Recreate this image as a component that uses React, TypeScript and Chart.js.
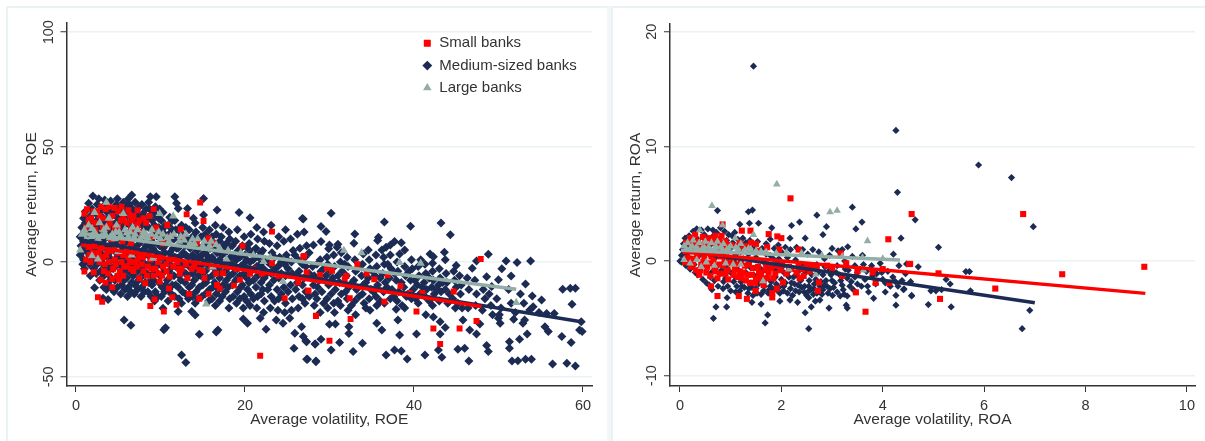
import React, { useEffect, useRef } from "react";
import { Chart, registerables } from "chart.js";

Chart.register(...registerables);

const NAVY = "#1c2b53";
const RED = "#ff0000";
const SAGE = "#93aea6";
const INK = "#333333";
const GRID = "#eaf2f3";
const FONT = "'Liberation Sans', Arial, sans-serif";

const smallLabel = "Small banks";
const mediumLabel = "Medium-sized banks";
const largeLabel = "Large banks";

const roeXTicks = [0, 20, 40, 60];
const roeYTicks = [-50, 0, 50, 100];
const roaXTicks = [0, 2, 4, 6, 8, 10];
const roaYTicks = [-10, 0, 10, 20];

const mediumRoe = [
  [2,28.7],[1.5,25.5],[6.6,29.1],[8.8,28.4],[9.5,28.4],[11.7,28.4],[15.1,27.6],[11.9,25.5],[12.1,23.3],[13.2,23.3],[16.7,22.6],[19.3,21.5],[20.6,19.2],[26.8,18.9],[15.1,20.4],[13.9,19],
  [0.5,3],[0.6,7],[0.5,11],[0.7,15],[0.9,19],[1.1,22],[0.8,-1],[1,-3],[1.3,1],[1.2,5],[1.4,9],[1.3,13],[1.4,17],[1.7,20],[1.9,23],
  [1.7,-6],[2.2,-11.2],[2.1,-3],[2,1],[2.2,5],[2.1,9],[2.3,13],[2.2,17],[2.4,21],[2.5,25],[2.7,27.5],[2.8,-8],[2.9,-4],[3,0],[2.9,4],[3.1,8],[3,12],[3.2,16],[3,20],[3.2,24],[3.4,27],
  [3.8,-16.3],[3.2,-15.8],[3.6,-12],[3.8,-9],[3.7,-5],[3.9,-1],[3.8,3],[4,7],[3.7,11],[3.9,15],[3.8,19],[4,23],[4.1,26.5],[4.5,-13],[4.6,-8],[4.4,-3],[4.6,1],[4.5,5],[4.7,9],[4.5,13],[4.7,17],[4.5,21],[4.8,25],[4.9,27.5],
  [5.3,-14],[5.4,-10],[5.2,-6],[5.4,-2],[5.3,2],[5.5,6],[5.3,10],[5.5,14],[5.2,18],[5.4,22],[5.6,26],[5.7,-25.3],[6.5,-27.6],[6.1,-15],[6.2,-11],[6,-7],[6.2,-3],[6.1,1],[6.3,5],[6,9],[6.3,13],[6.1,17],[6.2,21],[6.3,25],[6.2,27.5],
  [6.9,-14],[7,-10],[6.8,-6],[7,-2],[6.9,2],[7.1,6],[6.8,10],[7,14],[6.9,18],[7.1,22],[7,26],[7.7,-15],[7.8,-11],[7.6,-7],[7.8,-3],[7.7,1],[7.9,5],[7.6,9],[7.8,13],[7.7,17],[7.9,21],[7.8,25],
  [8.5,-13],[8.6,-9],[8.4,-5],[8.6,-1],[8.5,3],[8.7,7],[8.4,11],[8.6,15],[8.5,19],[8.7,23],[8.6,26],[9.3,-17],[9.4,-13],[9.2,-8],[9.4,-4],[9.3,0],[9.5,4],[9.2,8],[9.4,12],[9.3,16],[9.5,20],[9.4,24],
  [10.3,-20.2],[10.6,-28.6],[10.4,-29.5],[10.1,-15],[10.2,-11],[10,-6],[10.2,-2],[10.1,2],[10.3,6],[10,10],[10.2,14],[10.1,18],[10.3,21.5],[10.9,-17],[11,-12],[10.8,-8],[11,-4],[10.9,0],[11.1,4],[10.8,8],[11,12],[10.9,16],[11.1,19.5],
  [12.1,-21.6],[11.7,-15],[11.8,-10],[11.6,-6],[11.8,-2],[11.7,2],[11.9,6],[11.6,10],[11.8,14],[11.7,18],[12.5,-40.5],[13,-43.8],[12.5,-18],[12.6,-13],[12.4,-8],[12.6,-4],[12.5,0],[12.7,4],[12.4,8],[12.6,12],[12.5,16],
  [13.7,-21.6],[14.1,-23.1],[13.3,-16],[13.4,-11],[13.2,-6],[13.4,-2],[13.3,2],[13.5,6],[13.2,10],[13.4,14],[14.6,-31.5],[14.1,-18],[14.2,-13],[14,-8],[14.2,-3],[14.1,1],[14.3,5],[14,9],[14.2,13],[14.1,17],
  [16.8,-29.6],[16.6,-30.5],[14.9,-15],[15,-10],[14.8,-6],[15,-1],[14.9,3],[15.1,7],[14.8,11],[15,15],[15.7,-17],[15.8,-12],[15.6,-7],[15.8,-2],[15.7,2],[15.9,6],[15.6,10],[15.8,14],[16.5,-19],[16.6,-14],[16.4,-9],[16.6,-4],[16.5,0],[16.7,4],[16.4,8],[16.6,12],[16.5,16],
  [17.3,-15],[17.4,-10],[17.2,-5],[17.4,-1],[17.3,3],[17.5,7],[17.2,11],[17.4,15],[18.1,-20],[18.2,-16],[18,-11],[18.2,-6],[18.1,-2],[18.3,2],[18,6],[18.2,10],[18.1,13],[19,-18],[19.1,-13],[18.9,-8],[19.1,-3],[19,1],[19.2,5],[18.9,9],[19.1,14],
  [19.8,-24.8],[20.3,-26.7],[19.8,-20],[19.9,-15],[19.7,-10],[19.9,-5],[19.8,-1],[20,3],[19.7,7],[19.9,11],[20.6,-19],[20.7,-14],[20.5,-9],[20.7,-4],[20.6,0],[20.8,4],[20.5,8],[20.7,12],[21.8,-24.5],[21.4,-20],[21.5,-15],[21.3,-11],[21.5,-6],[21.4,-2],[21.6,2],[21.3,6],[21.5,10],[21.4,15],
  [22.5,-29.3],[22.2,-22],[22.3,-17],[22.1,-12],[22.3,-7],[22.2,-3],[22.4,1],[22.1,5],[22.3,9],[22.2,13],[23.7,-25.3],[23,-20],[23.1,-15],[22.9,-10],[23.1,-5],[23,-1],[23.2,4],[22.9,8],[23.1,16],
  [24.5,-26.7],[23.9,-21],[24,-16],[23.8,-12],[24,-7],[23.9,-2],[24.1,2],[23.8,7],[24,11],[25.3,-24.5],[24.7,-22],[24.8,-18],[24.6,-11],[24.8,-6],[24.7,-1],[24.9,3],[24.6,9],[24.8,14],
  [26.7,-28.2],[25.9,-31],[26.9,-32.5],[27.3,-34.7],[25.8,-37.6],[27.4,-42.4],[28.4,-43.4],[28.3,-35.7],[25.5,-21],[25.6,-16],[25.4,-10],[25.6,-5],[25.5,0],[25.7,5],[25.4,10],[26.3,-20],[26.4,-15],[26.2,-9],[26.4,-4],[26.3,1],[26.5,6],[26.2,12],[27.1,-18],[27.2,-13],[27,-7],[27.2,-2],[27.1,2],[27.3,7],[27,13],[26.9,18.7],
  [30.2,21.2],[29,15.4],[29.6,13.2],[33,12.2],[36.5,17.4],[39.6,15.5],[43.2,17],[44.3,11.8],[35.8,10.7],[35.7,9.3],[31,7.7],[29,8.9],[28.1,7.4],[30,7.4],[29.9,5.7],[30.9,6.4],[32.9,8.1],[34.6,5.2],[34,3.5],[37.7,8.9],[38.5,8.4],[37.2,7.4],[36.7,6.4],[36.2,5.2],[38.9,5.2],[38.3,3.5],[43.6,4.2],[43.7,0.9],[41.9,3.5],[42.3,2.3],[42.2,-0.6],[40.8,0.9],[48.8,3.3],[50.9,0.4],[52.2,-0.2],[53.8,0.4],[47.4,0.4],[46.9,-2.8],[45,-1.6],[50.4,-3],[51.5,-6.1],[53.2,-9.6],[48.6,-6.4],[50,-7.8],[49.2,-10.7],
  [54,-14.8],[55.1,-16.6],[57.6,-11.9],[58.5,-11.5],[59.1,-11.5],[58.7,-18.4],[54.1,-19.5],[53.7,-20.9],[54.8,-22],[55.7,-22.4],[56.6,-22.4],[59.8,-26],[59.6,-29.6],[59.9,-30.3],[57.5,-32.5],[58.6,-35.1],[56.4,-44.4],[58.1,-44.1],[59.1,-45.3],[51.6,-43.1],[52.3,-43],[53.2,-42.4],[53.9,-42.4],[46.5,-43.1],[43.3,-41.5],[41.3,-40.5],[39.2,-42.2],[36.7,-40.5],[37.7,-38.3],[38.5,-38.8],[28.4,-43.1],[27.3,-42.4],[30.2,-38.3],[32.8,-39],[33.9,-35.4],[31.2,-35.1],[28.3,-35.7],[29,-33.7],[27.2,-34.4],[45.2,-38],[46,-37.6],[42.9,-38.3],[48.8,-39],[48.6,-36.4],[51.3,-34.7],[51.3,-37.6],[52.5,-33.7],[53.4,-31.4],[50.2,-26.7],[50,-24.5],[52.9,-26.7],[53.1,-25.3],[55.9,-30.3],[55.5,-28.2],[47.4,-31.4],[46.6,-29.6],[43.7,-28.5],[43.1,-26],[45.8,-25.3],[43.1,-31.4],[40.3,-31.4],[38.3,-31.8],[36.2,-29.6],[38.1,-25.3],[37.9,-20.6],[35.6,-26.7],[32.3,-31.1],[32.3,-28.2],[30,-27.1],[30.7,-27],
  [28,-2],[28.2,-6],[28.1,-10],[28.3,-14],[28.2,-19],[28.9,1],[29,-4],[28.8,-8],[29.1,-13],[28.9,-22],[29.7,2],[29.8,-1],[29.6,-6],[29.9,-10],[29.7,-16],[29.8,-20],[30.5,3],[30.6,-2],[30.4,-7],[30.7,-12],[30.5,-18],[30.6,-22],[31.4,4],[31.3,0],[31.5,-4],[31.2,-9],[31.4,-14],[31.3,-19],[32.1,2],[32.2,-2],[32,-6],[32.3,-11],[32.1,-16],[32.2,-21],[33,1],[33.1,-4],[32.9,-8],[33.2,-12],[33,-17],[33.1,-23],[33.9,-1],[33.8,-6],[34,-10],[33.9,-14],[34.1,-18],[34.7,1],[34.8,-3],[34.6,-7],[34.9,-12],[34.7,-16],[34.8,-21],[35.5,3],[35.6,-2],[35.4,-6],[35.7,-10],[35.5,-15],[35.6,-19],[36.4,2],[36.5,-1],[36.3,-5],[36.6,-9],[36.4,-13],[36.5,-18],[37.2,3],[37.3,-3],[37.1,-7],[37.4,-12],[37.2,-16],[38,0],[38.1,-4],[37.9,-8],[38.2,-13],[38,-17],[38.9,-2],[39,-6],[38.8,-11],[39.1,-15],[38.9,-20],[39.7,1],[39.8,-3],[39.6,-8],[39.9,-12],[39.7,-16],[40.5,-2],[40.6,-6],[40.4,-10],[40.7,-14],[40.5,-18],[41.3,-1],[41.4,-5],[41.2,-9],[41.5,-12],[41.3,-15],[41.4,-23],[42.2,-4],[42.3,-8],[42.1,-11],[42.4,-14],[42.2,-19],[42.3,-24],[43,-3],[43.1,-7],[42.9,-10],[43.2,-13],[43,-17],[43.8,-5],[43.9,-9],[43.7,-12],[44,-18],[44.7,-4],[44.8,-8],[44.6,-16],[44.9,-20],[45.4,-6],[45.6,-10],[45.5,-14],[45.7,-20],[46.3,-7],[46.5,-12],[46.4,-20],[47.2,-8],[47.4,-14],[47.3,-19],[48.2,-12],[48.4,-16],[48.1,-21],[47.8,-27],[48.9,-14],[49.1,-19],[49.3,-23],[49.8,-16],[50.3,-20],[50.1,-23],[51.2,-12],[51.5,-18],[52,-22],[52.6,-14],[53,-18],[51.8,-25],
  [0.9,1],[0.9,5],[0.9,9],[1,13],[1.1,17],[1.6,-1],[1.6,3],[1.7,7],[1.7,11],[1.8,15],[1.9,18],[2.4,-5],[2.5,-1],[2.4,3],[2.6,7],[2.5,11],[2.6,15],[2.7,19],[2.8,22],[3.3,-11],[3.3,-6],[3.4,-2],[3.3,2],[3.5,6],[3.4,10],[3.5,14],[3.4,18],[3.6,22],[4.1,-11],[4.2,-7],[4.1,-3],[4.2,1],[4.1,5],[4.3,9],[4.1,13],[4.2,17],[4.3,21],[4.9,-11],[5,-6],[4.9,-1],[5,3],[4.9,7],[5.1,11],[4.9,15],[5,19],[5.1,23],[5.8,-12],[5.7,-8],[5.8,-4],[5.7,0],[5.8,4],[5.7,8],[5.9,12],[5.7,16],[5.8,20],[5.9,24],[6.5,-13],[6.6,-9],[6.5,-5],[6.6,-1],[6.5,3],[6.7,7],[6.5,11],[6.6,15],[6.6,19],[6.7,23],[7.3,-12],[7.4,-8],[7.3,-4],[7.4,0],[7.3,4],[7.5,8],[7.3,12],[7.4,16],[7.4,20],[7.5,24],[8.1,-13],[8.2,-9],[8.1,-5],[8.2,-1],[8.1,3],[8.3,7],[8.1,11],[8.2,15],[8.2,19],[8.3,23],[8.9,-15],[9,-10],[8.9,-6],[9,-2],[8.9,2],[9.1,6],[8.9,10],[9,14],[9,18],[9.1,22],[9.7,-15],[9.8,-9],[9.7,-5],[9.8,-1],[9.7,3],[9.9,7],[9.7,11],[9.8,15],[9.8,19],[9.9,23],[10.5,-13],[10.6,-10],[10.5,-4],[10.6,0],[10.5,4],[10.7,8],[10.5,12],[10.6,16],[11.3,-14],[11.4,-10],[11.3,-6],[11.4,-2],[11.3,2],[11.5,6],[11.3,10],[11.4,14],[11.4,18],[12.2,-16],[12.1,-11],[12.2,-6],[12.1,-2],[12.2,2],[12.1,6],[12.2,10],[12.1,14],[13,-14],[12.9,-9],[13,-5],[12.9,-1],[13,3],[12.9,7],[13,11],[13,15],
  [13.8,-15],[13.7,-10],[13.8,-5],[13.7,-1],[13.8,3],[13.7,7],[13.8,11],[14.5,-16],[14.6,-11],[14.5,-6],[14.6,-2],[14.5,2],[14.6,6],[14.5,10],[15.3,-14],[15.4,-9],[15.3,-4],[15.4,0],[15.3,4],[15.4,8],[15.3,12],[16.1,-16],[16.2,-11],[16.1,-6],[16.2,-2],[16.1,2],[16.2,6],[16.1,11],[17,-17],[16.9,-12],[17,-7],[16.9,-3],[17,1],[16.9,5],[17,9],[17.7,-13],[17.8,-8],[17.7,-4],[17.8,0],[17.7,4],[17.8,8],[18.6,-15],[18.5,-10],[18.6,-5],[18.5,-1],[18.6,3],[18.5,7],[19.4,-16],[19.5,-11],[19.4,-6],[19.5,-2],[19.4,2],[19.5,6],[20.2,-17],[20.3,-12],[20.2,-7],[20.3,-3],[20.2,1],[20.3,6],[21,-16],[21,-8],[21.1,-3],[21,1],[21.1,5],[21.9,-14],[21.9,-9],[21.8,-1],[21.9,4],[22.7,-12],[22.6,-5],[22.7,0],[23.5,-17],[23.4,-8],[23.5,-3],[23.5,2],[24.3,-14],[24.3,-5],[24.3,0],[25.1,-13],[25.1,-3],[25,1],[26,-12],[26,-6],[25.9,3],[26.8,-16],[26.8,-10],[26.8,-1],[27.6,-15],[27.6,-5],[27.6,4],[28.5,-16],[28.6,-11],[28.5,-1],[29.3,-18],[29.3,-3],[30.2,-14],[30.1,-4],[31,-17],[31,-6],[31.9,-13],[31.8,-1],[32.6,-19],[32.7,-9],[33.5,-15],[33.5,-2],[34.3,-20],[34.3,-9],[35.2,-13],[35.1,-4],[36,-17],[36,-7],[36.8,-11],[36.9,-1],[37.6,-15],[37.7,-5],[38.5,-9],[38.6,-19],[39.3,-14],[39.4,-4],[40.2,-16],[40.1,-8],[41,-11],[41.8,-7],[41.8,-17],[42.7,-12],[43.4,-9],[44.2,-14],[45,-11],[45.2,-18]
];
const smallRoe = [
  [1,-4.2],[2.1,-4.5],[2.6,-15.4],[3.1,-17.3],[2.9,-7.8],[3.5,-9],[4.3,-11],[5.1,-7.8],[4.3,-7.4],[7.5,-7.1],[8.2,-9.3],[8.8,-19.2],[9.3,-16.3],[10.4,-21.6],[11.4,-15.4],[11.9,-18.7],[11,-11.5],[9.9,-8.6],[11.1,-6.4],[12.3,-5.2],[13.4,-13.9],[14.6,-16],[15.7,-13.9],[16.7,-10],[17,-11.5],[18.7,-10.3],[19.4,-7.8],[17.4,-4.9],[14.6,-3.5],[21.8,-40.8],[24.7,-15.8],[27.5,-12.5],[28.4,-23.5],[26.3,-8.9],[20.6,-5.2],[23.2,-0.6],[26.9,2.3],[23.2,13.2],[19.7,7],[14.3,8.4],[16.2,8.4],[15.7,10.3],[12.7,10.7],[12.4,14.2],[10.8,16.1],[15.1,17.8],[13.1,20.7],[14.7,25.9],[9.2,23],
  [27,2.6],[33.3,-1],[29.7,-2.8],[30.3,-3.8],[28.9,-5.7],[27.3,-4.6],[32,-6.1],[31.8,-7.6],[34.4,-5],[35.3,-7.6],[36.9,-5.7],[38.4,-10.5],[27.5,-12.5],[32.4,-15.8],[36.5,-17.3],[28.4,-23.4],[32.5,-24.8],[30,-34.3],[40.3,-21.6],[42.3,-29],[45.4,-29],[47.4,-25.7],[43.1,-35.7],[44.7,-12.9],[47.9,1.3],[39.5,-13.6],[41,-13.5],
  [1.5,6.5],[2,4],[1.2,1],[2.5,2],[3,6],[3.6,3],[3.4,-1],[4.2,5],[4.6,1],[4.4,-3],[5,4],[5.4,0],[5.2,-4],[6,6],[6.2,2],[6,-2],[6.6,4],[7,0],[6.8,-4],[7.5,3],[7.8,-1],[8.2,4],[8.5,-2],[8.4,-6],[9,3],[9.4,-3],[9.2,-6],[10,2],[10.3,-2],[10.2,-6],[11,1],[11.5,-2],[12,0],[12.5,-3],[13,-1],[13.2,-7],[14,-2],[14.4,0],[15,-4],[15.2,-7],[16,-2],[16.6,-5],[18,-2],[19,-3],[21,-3],[22,-5],[24,-6],[25.5,-6],
  [1,21],[1.8,19],[2.5,22],[3.5,23],[3.2,19],[4.3,20],[5,22],[5.6,19],[6.2,22.5],[6.8,20],[7.5,18],[7.3,22.5],[8.3,17],[8.7,20],[9.5,15],[1.2,15],[2.3,14],[3.8,15],[5,15],[6.5,14],[7.8,13],[9,11],[10.3,8],[11,11],[4.2,10],[5.5,9],[6.5,8],
  [1.6,3],[1.7,0],[2.2,7],[2.7,4],[2.8,0],[3.2,2],[3.3,-4],[3.8,5],[3.9,0],[3.8,-5],[4.8,6],[4.7,-1],[4.9,-6],[5.6,3],[5.7,-2],[5.6,-6],[6.4,0],[6.5,-3],[7.2,5],[7.3,1],[7.2,-2],[7.9,2],[8,-4],[8.8,1],[8.9,-3],[9.7,0],[9.8,-5],[10.7,-1],[10.7,-4],[11.6,1],[12.2,-3],[13.7,-3],[2.2,17],[3.2,15],[4,17],[4.6,15],[5.3,18],[6,17],[6.7,18],[7.3,16],[8,19],[1.5,18],[2.8,20],[1.3,23],[2.1,22],[3,24],[3.9,24],[4.6,23.5],[5.4,24],[6.4,20]
];
const largeRoe = [
  [31.7,5],[33.8,4],[38.3,-0.3],[40.8,-0.6],[52.1,-17.7],[15.4,-18.4],[24.5,-8.6],[22.2,0.1],[17.8,1.2],[1.9,2.6],[0.5,5.2],[2.6,1.2],[5,4.5],[6.6,3],[9.1,1.6],[16.2,-2.3],[3.6,25.9],[5.6,21],[9.9,21],[11.5,20],[2.2,21.5],
  [0.7,12],[1.5,16],[1.2,10],[2.2,13],[2.8,17],[3,11],[3.6,15],[3.9,19],[4.3,12],[4.8,16],[5.2,11],[5.8,14],[6.2,11],[6.7,15],[7,12],[7.6,10],[8,13],[8.5,10.5],[9,14],[9.5,11],[10.3,12],[11,9],[11.6,12],[12.2,9],[13,12],[13.5,8],[14.4,10],[15,7],[16,9],[17,6],
  [1.8,11],[2.6,10],[3.4,12.5],[4,10.5],[4.7,13],[5.4,10.5],[6.4,13],[7.3,14],[8.3,12],[9.8,13],[10.8,10.5],[12.8,9.5],[14,8],[15.8,7],[18,5],[19.5,4],[21,3],[23,2],
  [1,14],[1.9,14.5],[2.4,11.5],[3.3,14],[4.6,10],[5.1,13],[6,12.5],[6.9,10.5],[7.9,11],[8.9,12],[10,10],[11.2,11],[12.4,11],[13.8,10],[15.2,9],[16.6,7.5]
];
const lineMediumRoe = [[0.6,9.6],[59.8,-26]];
const lineSmallRoe = [[0.6,7.4],[48,-19.4]];
const lineLargeRoe = [[0.6,12.5],[52.1,-11.9]];

const mediumRoa = [
  [1.45,17],[4.26,11.4],[4.29,6],[0.74,4.4],[1.43,4.45],[1.35,4.3],[3.4,4.7],[3.59,3.4],[3.47,2.8],[2.89,3],[2.82,2.3],[2.7,4],[2.36,3.4],[2.2,3.1],[1.18,3.2],[1.37,3.3],[1.55,3.3],[1.81,2.9],[2.17,2],[2.47,2],[4.36,2],[4.21,0.6],[3,1.1],[3.31,1.25],[3.2,1],
  [0.66,-5],[0.71,-4],[0.92,-4],[0.93,-3.2],[1.42,-3.6],[1.6,-3.75],[1.73,-4.7],[1.68,-5.4],[2.54,-5.9],[2.47,-4.5],[2.59,-4],[2.94,-4.1],[3.28,-3.85],[3.3,-4.1],[4.26,-3.85],[3.82,-3.25],[1.97,-3.5],[2.17,-3.4],[2.32,-3.6],[2.54,-3.2],[2.76,-3.4],[2.67,-3.5],[3.01,-3],[3.16,-3.05],[3.3,-3.05],[0.63,-2.5],[3.72,-2.7],[4.05,-2.7],[4.26,-3],[4.41,-2.5],[4.57,-3.05],
  [5.89,8.38],[6.54,7.28],[6.97,3],[4.64,3.6],[5.1,1.2],[4.7,-0.5],[4.47,-0.25],[5.64,-0.92],[5.71,-0.92],[5.25,-1.6],[5.33,-2],[5.73,-2.6],[5.16,-2.5],[5.05,-2.6],[4.95,-2.6],[4.42,-2.43],[4.57,-3],[4.9,-3.8],[5.35,-4],[6.9,-4.3],[6.75,-5.9],
  [0,0],[0.03,0.5],[0.05,1],[0.03,-0.1],[0.07,1.5],[0.1,2],[0.12,-0.4],[0.15,0.7],[0.16,1.4],[0.18,2.2],[0.2,-0.7],[0.22,0.2],[0.26,2.6],[0.3,-1],[0.33,2.8],[0.35,-1.2],[0.38,0.5],[0.42,2.7],[0.45,-1.6],[0.48,2.3],[0.52,-1.9],[0.55,2.8],[0.58,-2.1],[0.62,1.5],[0.65,2.7],[0.68,-1.7],[0.72,2.5],[0.75,-2.2],[0.78,-1.1],[0.8,2.9],[0.85,-2.4],[0.88,2.6],[0.9,-1.5],[0.94,-2.2],[0.96,2.3],[1,-2.6],[1.03,2.2],[1.06,-1.8],[1.08,2.5],[1.12,-2.2],[1.14,1.9],[1.18,-2.6],[1.2,-1.2],[1.24,2],[1.27,-2.3],[1.3,1.6],[1.34,-2.8],[1.38,1.8],[1.4,-1.9],[1.44,-3],[1.47,1.3],[1.5,-2.4],[1.53,1.7],[1.57,-1.5],[1.6,-2.9],[1.62,1.1],[1.66,-2.2],[1.7,1.5],[1.74,-2.8],[1.78,1.9],[1.8,-1.8],[1.84,-2.5],[1.86,1.1],[1.9,-2],[1.94,1.4],[1.97,-2.8],[2,0.8],[2.05,-2.2],[2.08,1.2],[2.12,-2.8],[2.15,-1.4],[2.18,1],[2.22,-3],[2.26,-2],[2.3,1.2],[2.35,-2.7],[2.38,-1.7],[2.42,1],[2.46,-2.2],[2.5,-3],[2.52,0.6],[2.55,-1.7],[2.58,-2.5],[2.62,1],[2.65,-2],[2.7,-2.8],[2.74,0.8],[2.78,-1.8],[2.82,-2.5],[2.86,-0.5],[2.9,-2.2],[2.95,0.5],[3,-1.7],[3.03,-2.3],[3.08,-1],[3.12,0.9],[3.17,-1.7],[3.22,-2.5],[3.26,-0.7],[3.3,-1.5],[3.35,-2.2],[3.4,0.4],[3.45,-1.4],[3.5,-2],[3.55,-0.7],[3.6,0.5],[3.65,-1.6],[3.7,-2.2],[3.78,-0.4],[3.8,-1.3],[3.86,-2],[3.95,-0.2],[4,-1.6],[4.1,-0.9],[4.15,-2.2],[4.2,-1.4],[4.3,-2.2],[4.32,-0.4],[4.38,-1.7],[4.45,-1.1],[4.55,-1.8],
  [0.2,1],[0.3,0.2],[0.35,1.9],[0.45,0.8],[0.5,-0.5],[0.55,1.2],[0.62,-1],[0.7,0.3],[0.78,1.7],[0.85,0.5],[0.92,-0.6],[1,1.1],[1.06,0],[1.15,-0.8],[1.2,0.8],[1.3,-0.4],[1.35,0.6],[1.45,-1.2],[1.5,0.3],[1.55,-0.5],[1.65,-0.1],[1.72,-1.4],[1.78,0.5],[1.88,-0.8],[1.95,0.2],[2.05,-1],[2.12,0.3],[2.2,-0.6],[2.3,-1.2],[2.4,-0.3],[2.48,-1],[2.6,-0.5],[2.72,-1],[2.85,0.2],[2.95,-0.8],[3.1,-0.4],[3.25,0],[3.45,-0.4],[3.62,-0.3],
  [0.1,1.1],[0.12,0.5],[0.25,1.4],[0.28,-0.3],[0.4,1.3],[0.4,-0.6],[0.5,2],[0.6,0.5],[0.6,-1.4],[0.66,2.2],[0.7,1],[0.72,-0.5],[0.82,0.9],[0.82,-0.8],[0.86,-1.8],[0.92,1.8],[0.95,0.3],[1,-1],[1.04,1.6],[1.1,0.6],[1.1,-1.4],[1.16,1.2],[1.2,-1.8],[1.25,0.2],[1.3,-1],[1.33,1.1],[1.4,-0.6],[1.42,-2.3],[1.45,0.8],[1.5,-1.4],[1.55,-2],[1.58,0.9],[1.62,-0.8],[1.68,-1.6],[1.7,0.6],[1.74,-0.5],[1.78,-2.2],[1.84,0.2],[1.88,-1.4],[1.92,-0.2],[1.95,-2.3],[2,-1.6],[2.02,-0.5],[2.08,-1.9],[2.14,-0.9],[2.18,-2.4],[2.24,-1.4],[2.28,0.1],[2.33,-2.1],[2.36,-0.8],[2.42,-1.4],[2.45,-2.7],[2.5,-0.7],[2.54,-2.2],[2.6,-1.2],[2.63,-2.9],[2.68,-1.6],[2.7,-0.3],[2.76,-2.2],[2.82,-1.2],[2.88,-1.7],[2.92,-2.8],[2.98,-1.2],[3.05,-1.9],[3.15,-1.2],[3.2,-2.1],[3.32,-0.8],[3.38,-1.8],[3.5,-1],[3.58,-2.2],[3.68,-0.9],[3.88,-1.1],[3.98,-1],[4.05,-1.9],[4.25,-1.8],
  [1.1,-2.7],[1.22,-2.2],[1.36,-2.4],[1.52,-2.8],[1.65,-2.6],[1.76,-2.5],[1.9,-2.5],[2.04,-2.6],[2.2,-1.9],[2.28,-2.6],[2.4,-2.3],[2.52,-2.7],[2.64,-2.4],[2.8,-2.9],[2.85,-2.1],[2.96,-2.4],[3.1,-2.7],[3.24,-2.9],[3.42,-2.5]
];
const smallRoa = [
  [4.57,4.1],[6.77,4.1],[9.16,-0.5],[7.54,-1.15],[6.22,-2.4],[5.13,-3.3],[5.1,-1.07],[4.54,-0.25],[2.18,5.47],[0.84,3.2],[1.22,2.65],[1.39,2.65],[1.75,2.35],[1.92,2.15],[2,2],[4.11,1.9],[1.96,1],[2.34,1],[3.17,0.67],[3.28,-0.2],[4.52,-0.26],[0.61,-2.2],[0.74,-3.05],[1.16,-3.05],[1.32,-3.3],[1.49,-2.6],[1.82,-2.8],[1.82,-3.17],[1.91,-2.4],[2.03,-1.86],[2.72,-2.6],[2.74,-1.86],[3.47,-2.73],[3.66,-4.42],[3.86,-1.9],[4.13,-1.9],
  [0.12,1.6],[0.2,2],[0.25,1.2],[0.3,2.3],[0.36,1.7],[0.45,2.1],[0.5,1.3],[0.58,2],[0.63,1.6],[0.7,2.2],[0.76,1.5],[0.82,2.2],[0.9,1.7],[0.92,1.2],[1.1,1.3],[1.25,1.3],[1.4,1.6],[1.5,1.5],[1.72,1.2],[1.55,0.9],
  [0.1,-0.1],[0.15,0.3],[0.22,-0.5],[0.28,0.2],[0.32,-0.8],[0.38,-1.2],[0.42,-0.3],[0.48,0.3],[0.54,-0.5],[0.6,-1.3],[0.66,0],[0.7,-0.9],[0.74,-1.5],[0.8,0.4],[0.85,-0.4],[0.9,-1.1],[0.95,-1.6],[1.02,0.2],[1.08,-0.7],[1.14,-1.4],[1.2,0],[1.25,-1],[1.3,-1.7],[1.36,-0.3],[1.42,-1.2],[1.48,-1.9],[1.54,-0.5],[1.6,-1.3],[1.65,-2.1],[1.7,-0.3],[1.75,-1],[1.84,-1.5],[1.9,-0.4],[2.02,-0.3],[2.15,-0.5],[2.3,-1],[2.36,-1.5],[2.42,-0.7],[2.5,-0.4],[2.7,-0.6],[2.9,-0.4],[3,-0.7],[3.2,-1.3],[3.5,-0.9],[3.8,-1],[4,-0.7],
  [0.18,0.1],[0.26,-0.2],[0.34,0.4],[0.4,-0.8],[0.46,-0.1],[0.52,-1],[0.58,-0.2],[0.62,0.4],[0.68,-0.6],[0.78,-0.3],[0.8,-1.1],[0.88,0.1],[0.94,-0.8],[1,-0.2],[1.06,-1.2],[1.12,-0.3],[1.18,-0.9],[1.22,-1.5],[1.28,-0.4],[1.34,-1.2],[1.38,-1.9],[1.44,-0.6],[1.5,-1.5],[1.56,-1],[1.62,-1.8],[1.68,-0.8],[1.72,-1.5],[1.8,-0.6],[1.88,-1.1],[1.98,-0.8],[2.1,-1.1],[2.2,-0.7],[2.34,-0.5],[2.44,-1.3],[2.56,-0.9],[2.6,-0.4],[0.5,1.8],[0.4,1.4],[0.66,2],[0.78,1.9],[0.86,1.5],[0.22,1.6],[0.3,1.6],[1,1.4],[1.18,1.6],[1.32,1.3]
];
const largeRoa = [
  [0.63,4.83],[1.91,6.7],[2.96,4.27],[3.1,4.4],[3.7,1.75],[1.45,2.3],[1.09,2],[0.84,3.14],[0.39,2.7],[2.15,-0.73],[1.64,-1.74],[2.68,-1.16],[3.62,-0.8],
  [0.08,1.3],[0.15,1.6],[0.2,1.1],[0.26,1.8],[0.32,1.2],[0.38,1.6],[0.44,1.1],[0.5,1.7],[0.56,1.2],[0.62,1.6],[0.68,1.1],[0.74,1.7],[0.8,1.2],[0.86,1.5],[0.92,1],[1,1.3],[1.1,1.2],[1.2,1.5],[1.28,1],[1.35,1.1],[1.5,0.9],[1.7,0.8],[1.9,0.7],
  [0.08,0.1],[0.2,-0.2],[0.33,0.1],[0.42,-0.5],[0.52,-0.1],[0.68,-0.4],[0.9,-0.2],[1.05,-0.3],[1.2,-0.3],[2.4,0.7],[2.8,0.5],[3.2,0.4],[3.6,0.3],[4,0.2],
  [0.12,1.1],[0.24,1.3],[0.36,1],[0.48,1.2],[0.6,1],[0.72,1.2],[0.84,1],[0.96,1.1],[1.15,1.05],[1.4,1],[1.6,0.85],[2.1,0.75]
];
const lineMediumRoa = [[0.03,0.95],[7,-3.64]];
const lineSmallRoa = [[0.05,0.8],[9.18,-2.82]];
const lineLargeRoa = [[0.02,0.95],[4.34,0.1]];

const toPoints = (rows: number[][]) => rows.map(([x, y]) => ({ x, y }));

const floatLegend = {
  id: "floatLegend",
  beforeLayout(chart: any) {
    const lg = chart.legend;
    if (!lg || lg.__patched) return;
    lg.__patched = true;
    const fit = lg.fit.bind(lg);
    lg.fit = () => {
      fit();
      lg.__w = lg.width;
      lg.__h = lg.height;
      lg.width = 0;
      lg.height = 0;
    };
  },
  afterLayout(chart: any) {
    const lg = chart.legend;
    if (!lg || !chart.options.plugins.legend.display) return;
    const pos = chart.options.plugins.floatLegend;
    lg.left = pos.left;
    lg.top = pos.top;
    lg.width = lg.__w + 20;
    lg.height = lg.__h + 20;
    lg.right = lg.left + lg.width;
    lg.bottom = lg.top + lg.height;
  },
};

type PanelSpec = {
  small: number[][]; medium: number[][]; large: number[][];
  lineSmall: number[][]; lineMedium: number[][]; lineLarge: number[][];
  xTicks: number[]; yTicks: number[];
  xRange: number[]; yRange: number[];
  xTitle: string; yTitle: string;
  navyR: number; redR: number; sageR: number; legend: boolean;
  axisWidth: number; padRight: number; padTop: number; titlePad: number; lineWidth: number; tickPad: number;
};

function Panel({ spec, left, width }: { spec: PanelSpec; left: number; width: number }) {
  const ref = useRef<HTMLCanvasElement>(null);
  useEffect(() => {
    const s = spec;
    const chart = new Chart(ref.current as HTMLCanvasElement, {
      type: "scatter",
      data: {
        datasets: [
          { label: smallLabel, data: toPoints(s.small), order: 4, pointStyle: "rect", pointRadius: s.redR, backgroundColor: RED, borderWidth: 0 },
          { label: mediumLabel, data: toPoints(s.medium), order: 5, pointStyle: "rectRot", pointRadius: s.navyR, backgroundColor: NAVY, borderWidth: 0 },
          { label: largeLabel, data: toPoints(s.large), order: 3, pointStyle: "triangle", pointRadius: s.sageR, backgroundColor: SAGE, borderWidth: 0 },
          { label: "", data: toPoints(s.lineMedium), order: 2, showLine: true, pointRadius: 0, borderColor: NAVY, borderWidth: s.lineWidth },
          { label: "", data: toPoints(s.lineSmall), order: 1, showLine: true, pointRadius: 0, borderColor: RED, borderWidth: s.lineWidth },
          { label: "", data: toPoints(s.lineLarge), order: 0, showLine: true, pointRadius: 0, borderColor: SAGE, borderWidth: s.lineWidth },
        ],
      },
      options: {
        animation: false,
        responsive: false,
        layout: { padding: { top: s.padTop, right: s.padRight, left: 0, bottom: 0 } },
        plugins: {
          tooltip: { enabled: false },
          legend: {
            display: s.legend,
            position: "left",
            align: "start",
            labels: {
              usePointStyle: true,
              boxWidth: 9,
              boxHeight: 7,
              padding: 7.3,
              color: INK,
              font: { family: FONT, size: 15 },
              filter: (item: any) => !!item.text,
              sort: (a: any, b: any) => a.datasetIndex - b.datasetIndex,
            },
          },
          floatLegend: { left: 409.5, top: 22.5 },
        } as any,
        scales: {
          x: {
            type: "linear",
            min: s.xRange[0],
            max: s.xRange[1],
            afterBuildTicks: (scale: any) => { scale.ticks = s.xTicks.map((value) => ({ value })); },
            afterFit: (scale: any) => { scale.height = 55; },
            grid: { drawOnChartArea: false, tickColor: INK, tickLength: 6, tickWidth: 1 },
            border: { color: INK, width: 1.5 },
            ticks: { color: INK, font: { family: FONT, size: 14.5 }, padding: 5, maxRotation: 0, autoSkip: false },
            title: { display: true, text: s.xTitle, color: INK, font: { family: FONT, size: 15.5 }, padding: { top: 0, bottom: 12 } },
          },
          y: {
            type: "linear",
            min: s.yRange[0],
            max: s.yRange[1],
            afterBuildTicks: (scale: any) => { scale.ticks = s.yTicks.map((value) => ({ value })); },
            afterFit: (scale: any) => { scale.width = s.axisWidth; },
            grid: { color: GRID, lineWidth: 1.5, tickColor: INK, tickLength: 6, tickWidth: 1 },
            border: { color: INK, width: 1.5 },
            ticks: { color: INK, font: { family: FONT, size: 14.5 }, padding: s.tickPad, minRotation: 90, maxRotation: 90, crossAlign: "center", autoSkip: false },
            title: { display: true, text: s.yTitle, color: INK, font: { family: FONT, size: 15.5 }, padding: { top: s.titlePad, bottom: 0 } },
          },
        },
      } as any,
      plugins: [floatLegend],
    });
    return () => chart.destroy();
  }, [spec]);
  return (
    <div style={{ position: "absolute", left, top: 6, width, height: 435, borderLeft: `2px solid ${GRID}`, borderTop: `2px solid ${GRID}`, boxSizing: "border-box", overflow: "visible" }}>
      <canvas ref={ref} width={width} height={435} style={{ position: "absolute", left: -2, top: -2, display: "block" }} />
    </div>
  );
}

const roeSpec: PanelSpec = {
  small: smallRoe, medium: mediumRoe, large: largeRoe,
  lineSmall: lineSmallRoe, lineMedium: lineMediumRoe, lineLarge: lineLargeRoe,
  xTicks: roeXTicks, yTicks: roeYTicks, xRange: [-1.12, 61.07], yRange: [-54, 104],
  xTitle: "Average volatility, ROE", yTitle: "Average return, ROE",
  navyR: 4.5, redR: 4.2, sageR: 4.8, legend: true, axisWidth: 60.5, padRight: 15, padTop: 17, titlePad: 16, lineWidth: 3.5, tickPad: -1,
};
const roaSpec: PanelSpec = {
  small: smallRoa, medium: mediumRoa, large: largeRoa,
  lineSmall: lineSmallRoa, lineMedium: lineMediumRoa, lineLarge: lineLargeRoa,
  xTicks: roaXTicks, yTicks: roaYTicks, xRange: [-0.197, 10.16], yRange: [-10.9, 20.68],
  xTitle: "Average volatility, ROA", yTitle: "Average return, ROA",
  navyR: 3.6, redR: 4.3, sageR: 4.4, legend: false, axisWidth: 59, padRight: 10, padTop: 18, titlePad: 15, lineWidth: 3.5, tickPad: 2,
};

export default function App() {
  return (
    <div style={{ position: "fixed", left: 0, top: 0, width: 1205, height: 441, background: "#ffffff", overflow: "hidden" }}>
      <Panel spec={roeSpec} left={6} width={601} />
      <div style={{ position: "absolute", left: 607, top: 6, width: 4, height: 435, background: "#f1f6f7" }} />
      <Panel spec={roaSpec} left={611} width={594} />
    </div>
  );
}
